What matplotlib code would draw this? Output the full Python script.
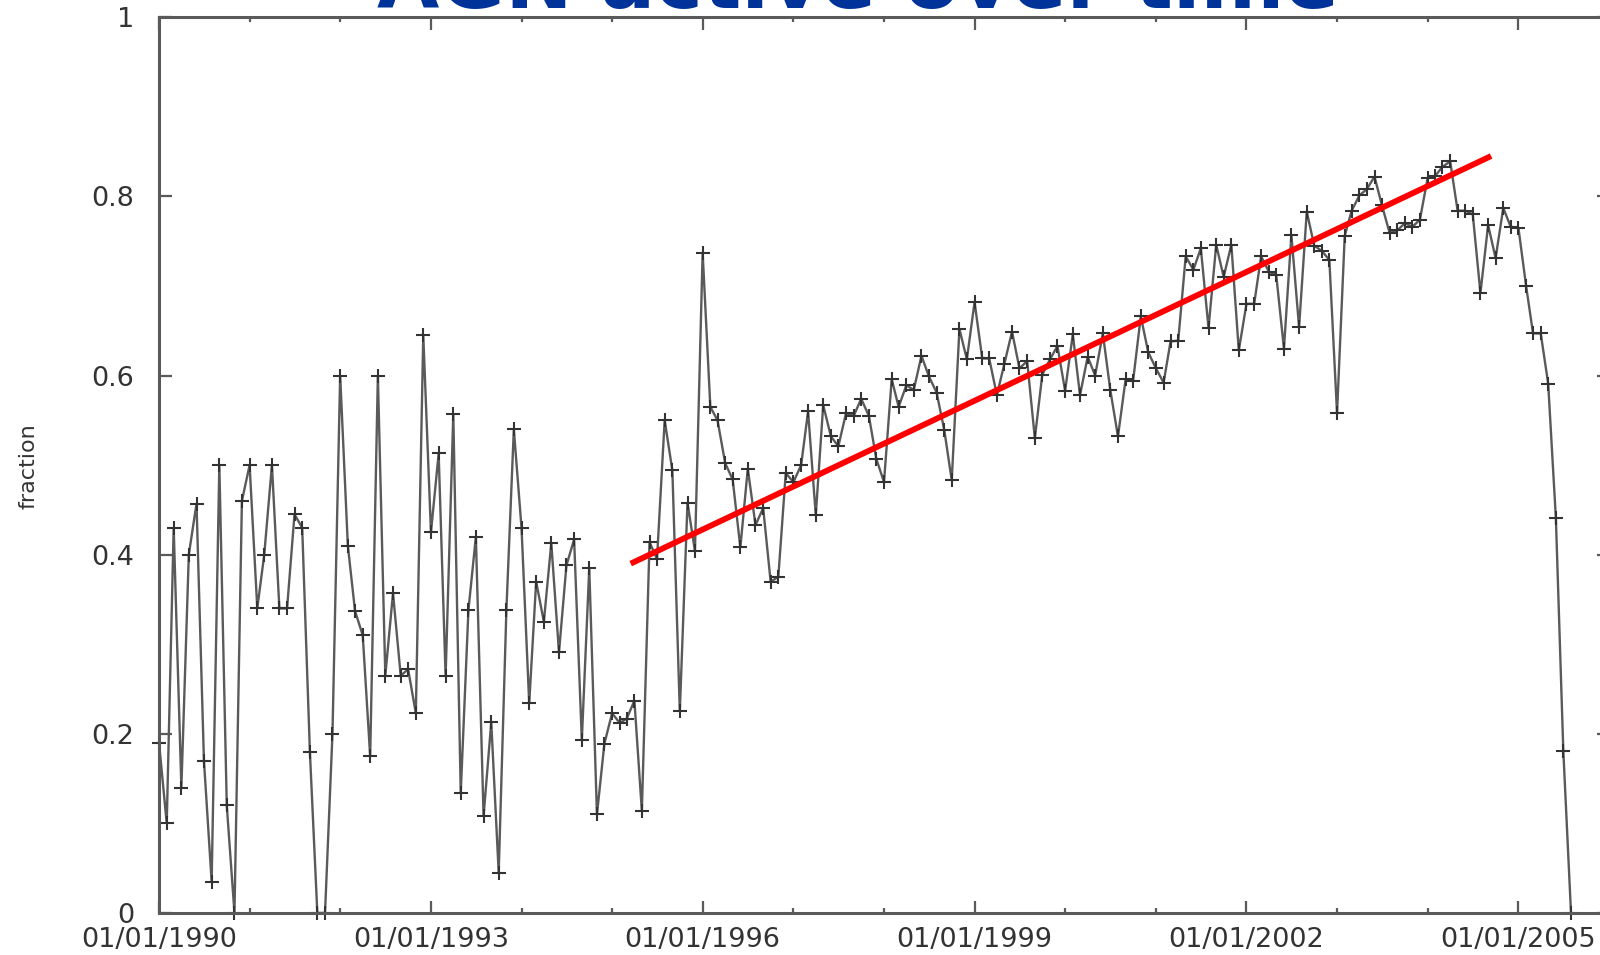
import matplotlib
matplotlib.use('Agg')
import matplotlib.pyplot as plt
import matplotlib.dates as mdates
from matplotlib.ticker import FixedLocator
import pandas as pd

# monthly fraction of active AGN, starting Jan 1990
first_month = '1990-01-01'
fraction = [
    0.19, 0.10, 0.43, 0.14, 0.40, 0.457, 0.17, 0.035, 0.50, 0.12, 0.0, 0.46,
    0.50, 0.34, 0.40, 0.50, 0.34, 0.34, 0.445, 0.43, 0.18, 0.0, 0.0, 0.20,
    0.60, 0.41, 0.337, 0.31, 0.175, 0.60, 0.265, 0.357, 0.265, 0.272, 0.223, 0.645,
    0.425, 0.513, 0.264, 0.557, 0.134, 0.338, 0.42, 0.108, 0.213, 0.045, 0.338, 0.54,
    0.43, 0.234, 0.37, 0.325, 0.413, 0.291, 0.388, 0.417, 0.193, 0.385, 0.11, 0.189,
    0.223, 0.212, 0.217, 0.237, 0.114, 0.414, 0.395, 0.55, 0.494, 0.225, 0.458, 0.404,
    0.737, 0.565, 0.55, 0.502, 0.484, 0.408, 0.496, 0.433, 0.452, 0.370, 0.375, 0.491,
    0.481, 0.50, 0.560, 0.444, 0.567, 0.532, 0.521, 0.558, 0.555, 0.574, 0.555, 0.507,
    0.481, 0.596, 0.565, 0.589, 0.584, 0.622, 0.599, 0.581, 0.539, 0.483, 0.652, 0.618,
    0.682, 0.619, 0.619, 0.578, 0.613, 0.649, 0.608, 0.616, 0.53, 0.601, 0.618, 0.633,
    0.583, 0.646, 0.578, 0.621, 0.60, 0.647, 0.584, 0.532, 0.596, 0.594, 0.666, 0.626,
    0.608, 0.592, 0.638, 0.639, 0.733, 0.718, 0.742, 0.653, 0.746, 0.71, 0.746, 0.628,
    0.68, 0.68, 0.733, 0.716, 0.712, 0.63, 0.757, 0.654, 0.783, 0.745, 0.739, 0.729,
    0.558, 0.756, 0.784, 0.801, 0.808, 0.822, 0.79, 0.759, 0.762, 0.77, 0.766, 0.774,
    0.82, 0.823, 0.833, 0.839, 0.784, 0.784, 0.78, 0.692, 0.768, 0.731, 0.787, 0.766,
    0.765, 0.70, 0.647, 0.647, 0.591, 0.441, 0.181, 0.0,
]

# red trend line, drawn by hand on the slide
trend_dates = ['1995-03-17', '2004-09-13']
trend_values = [0.39, 0.845]

label_dates = ['1990-01-01', '1993-01-01', '1996-01-01',
               '1999-01-01', '2002-01-01', '2005-01-01']
y_ticks = [0, 0.2, 0.4, 0.6, 0.8, 1]
y_labels = ['0', '0.2', '0.4', '0.6', '0.8', '1']

months = pd.date_range(first_month, periods=len(fraction), freq='MS')

fig = plt.figure(figsize=(16, 9.55), dpi=100)
# right edge of the plot box sits just past the slide edge
ax = fig.add_axes([0.0994, 0.044, 0.9062, 0.938])

ax.plot(months, fraction, color='#5a5a5a', lw=1.7, marker='+', ms=10,
        mec='#333333', mew=1.5, clip_on=False, zorder=2)
ax.plot(pd.to_datetime(trend_dates), trend_values, color='#ff0000', lw=4.2,
        solid_capstyle='butt', zorder=3)

ax.set_xlim(pd.Timestamp('1990-01-01'), pd.Timestamp('2006-01-01'))
ax.set_ylim(0, 1)

ax.xaxis.set_major_locator(FixedLocator(mdates.date2num(pd.to_datetime(label_dates))))
ax.xaxis.set_major_formatter(mdates.DateFormatter('%m/%d/%Y'))
ax.xaxis.set_minor_locator(mdates.YearLocator(1))
ax.set_yticks(y_ticks)
ax.set_yticklabels(y_labels)

for sp in ax.spines.values():
    sp.set_color('#5a5a5a')
    sp.set_linewidth(2.2)

ax.tick_params(which='both', direction='in', top=True, right=True,
               color='#5a5a5a', width=1.6, labelcolor='#333333', labelsize=19.5)
ax.tick_params(which='major', length=9)
ax.tick_params(which='minor', length=3.6)
ax.tick_params(axis='x', pad=10)
ax.tick_params(axis='y', pad=18)

fig.text(0.018, 0.512, 'fraction', rotation=90, ha='center', va='center',
         fontsize=16, color='#333333')
# slide title, cropped at the top like in the original screenshot
fig.text(0.536, 0.9916, 'AGN active over time', ha='center', va='baseline',
         fontsize=58, fontweight='bold', color='#003399')

fig.savefig('out.png', dpi=100)
